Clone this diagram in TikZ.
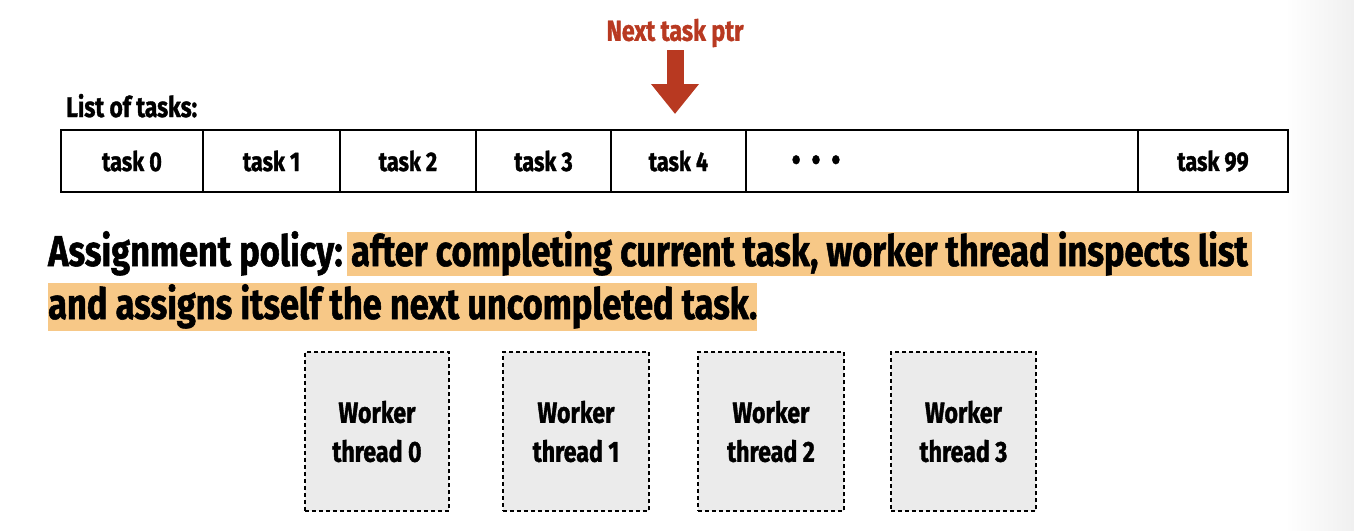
\documentclass[tikz,border=0pt]{standalone}
\usepackage{fontspec}
\setmainfont[FakeStretch=0.8,BoldFeatures={FakeBold=1.2}]{Fira Sans}
\usetikzlibrary{arrows.meta}
\definecolor{ptrred}{RGB}{184,57,33}
\definecolor{hlorange}{RGB}{247,200,135}
\definecolor{workergray}{RGB}{235,235,235}
\tikzset{
    cell/.style={draw,line width=2.8,minimum height=62,inner sep=0,font=\fontsize{27}{30}\selectfont\bfseries},
    worker/.style={draw,dashed,dash pattern=on 4 off 3,line width=1.8,fill=workergray,minimum height=159,align=center,font=\fontsize{29}{39}\selectfont\bfseries},
    hl/.style={fill=hlorange,inner xsep=4,inner ysep=0,text height=34,text depth=10},
    policy/.style={font=\fontsize{43}{52}\selectfont\bfseries,inner sep=0}
}
\begin{document}
    \begin{tikzpicture}[x=1pt,y=-1pt]
        \useasboundingbox (0,0) rectangle (1354,530);
        \shade[left color=white,right color=black!6] (1285,0) rectangle (1354,530);
        \node (list) [anchor=base west,inner sep=0,font=\fontsize{28.5}{30}\selectfont\bfseries] at (66,117) {List of tasks:};
        \begin{scope}[every node/.style={cell}]
            \node (t0) [minimum width=142] at (132,161) {task 0};
            \node (t1) [minimum width=137] at (271.5,161) {task 1};
            \node (t2) [minimum width=136] at (408,161) {task 2};
            \node (t3) [minimum width=135] at (543.5,161) {task 3};
            \node (t4) [minimum width=135] at (678.5,161) {task 4};
            \node (more) [minimum width=392] at (942,161) {};
            \node (t99) [minimum width=150] at (1213,161) {task 99};
        \end{scope}
        \node (dots) [font=\fontsize{32}{32}\selectfont\bfseries] at (816,163) {•\hspace{11pt}•\hspace{11pt}•};
        \node (ptr) [text=ptrred,inner sep=0,font=\fontsize{29}{32}\selectfont\bfseries] at (675,33) {Next task ptr};
        \coordinate (tip) at (675,114);
        \draw [ptrred,line width=17,-{Triangle[width=46pt,length=30pt]}] (675,50) -- (tip);
        \node (pol) [policy,anchor=base west] at (48,266) {Assignment policy:};
        \node (hl1) [policy,hl,anchor=base west,xshift=4] at (pol.base east) {after completing current task, worker thread inspects list};
        \node (hl2) [policy,hl,anchor=base west,text height=36,text depth=12,inner xsep=0] at (48,319) {and assigns itself the next uncompleted task.};
        \begin{scope}[every node/.style={worker}]
            \node (w0) [minimum width=144] at (377,431.5) {Worker\\thread 0};
            \node (w1) [minimum width=146] at (576,431.5) {Worker\\thread 1};
            \node (w2) [minimum width=146] at (771,431.5) {Worker\\thread 2};
            \node (w3) [minimum width=145] at (963.5,431.5) {Worker\\thread 3};
        \end{scope}
    \end{tikzpicture}
\end{document}
